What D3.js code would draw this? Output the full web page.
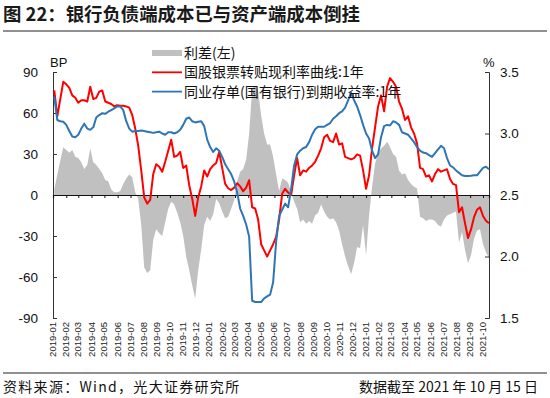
<!DOCTYPE html>
<html>
<head>
<meta charset="utf-8">
<script src="https://cdn.jsdelivr.net/npm/d3@7"></script>
<style>
  body { margin: 0; background: #fff; }
  svg { display: block; font-family: "Noto Sans CJK SC", "Noto Sans", sans-serif; }
</style>
</head>
<body>
<svg id="chart" width="550" height="398"></svg>
<script>
// weekly observations (Fridays), 2019-01-04 .. 2021-10-15
const weeks = d3.timeFriday.range(new Date(2019, 0, 4), new Date(2021, 9, 16));

// 国股银票转贴现利率曲线:1年 (%)
const billRate = [
  3.35, 3.14, 3.28, 3.42, 3.40, 3.37, 3.31, 3.29, 3.25, 3.27,
  3.27, 3.26, 3.38, 3.28, 3.29, 3.34, 3.35, 3.26, 3.25, 3.24,
  3.22, 3.23, 3.225, 3.225, 3.22, 3.21, 3.15, 3.04, 2.90, 2.70,
  2.48, 2.43, 2.46, 2.67, 2.75, 2.73, 2.69, 2.77, 2.86, 2.95,
  2.81, 2.82, 2.85, 2.72, 2.74, 2.58, 2.47, 2.33, 2.48, 2.57,
  2.70, 2.65, 2.71, 2.74, 2.76, 2.85, 2.72, 2.59, 2.555, 2.54,
  2.56, 2.595, 2.57, 2.53, 2.56, 2.62, 2.40, 2.39, 2.30, 2.10,
  2.05, 2.00, 2.05, 2.10, 2.16, 2.30, 2.51, 2.55, 2.52, 2.50,
  2.66, 2.80, 2.66, 2.70, 2.69, 2.72, 2.74, 2.77, 2.82, 2.88,
  2.97, 2.99, 2.94, 2.93, 3.00, 2.91, 2.92, 2.81, 2.80, 2.79,
  2.80, 2.83, 2.82, 2.70, 2.55, 2.66, 2.88, 3.05, 3.22, 3.31,
  3.18, 3.38, 3.45, 3.42, 3.38, 3.26, 3.20, 3.11, 3.14, 3.05,
  3.00, 2.92, 2.72, 2.71, 2.65, 2.66, 2.61, 2.67, 2.71, 2.69,
  2.70, 2.71, 2.63, 2.59, 2.58, 2.36, 2.40, 2.27, 2.15, 2.22,
  2.32, 2.38, 2.40, 2.33, 2.29, 2.27
];

// 同业存单(国有银行)到期收益率:1年 (%)
const cdYield = [
  3.30, 3.11, 3.10, 3.095, 3.07, 3.02, 2.975, 2.97, 2.99, 3.04,
  3.08, 3.04, 3.03, 3.05, 3.13, 3.15, 3.165, 3.16, 3.177, 3.19,
  3.205, 3.22, 3.22, 3.19, 3.10, 3.04, 3.015, 3.02, 3.02, 3.025,
  3.02, 3.015, 3.01, 3.005, 3.01, 3.015, 3.00, 2.99, 3.01, 3.01,
  3.00, 3.01, 3.03, 3.07, 3.12, 3.13, 3.10, 3.09, 3.095, 3.10,
  3.06, 2.95, 2.89, 2.85, 2.88, 2.86, 2.81, 2.75, 2.71, 2.67,
  2.61, 2.52, 2.39, 2.33, 2.26, 2.16, 1.64, 1.63, 1.63, 1.63,
  1.66, 1.675, 1.69, 1.79, 2.12, 2.33, 2.38, 2.43, 2.40, 2.55,
  2.74, 2.83, 2.86, 2.88, 2.89, 2.93, 2.99, 3.035, 3.055, 3.055,
  3.055, 3.07, 3.085, 3.12, 3.14, 3.165, 3.18, 3.21, 3.27, 3.33,
  3.27, 3.22, 3.15, 3.07, 3.00, 2.96, 2.86, 2.80, 2.83, 2.97,
  3.06, 3.07, 3.065, 3.10, 3.09, 3.07, 3.01, 3.00, 2.99, 2.96,
  2.93, 2.89, 2.86, 2.845, 2.84, 2.825, 2.81, 2.84, 2.87, 2.90,
  2.88, 2.80, 2.74, 2.725, 2.70, 2.68, 2.66, 2.654, 2.655, 2.656,
  2.66, 2.66, 2.69, 2.72, 2.73, 2.71
];

// 利差(左), BP
const spread = [
  4, 15, 25, 35, 33, 31, 33, 28, 27, 24,
  19, 22, 34, 24, 22, 19, 16, 11, 10, 4,
  2, 2, 3, 8, 12, 15, 13, 2, -3, -22,
  -53, -57, -55, -33, -25, -28, -30, -20, -10, -5,
  -7, -13, -20, -30, -45, -55, -66, -76, -55, -40,
  -22, -16, -19, -14, -3, -6, -12, -17, -16, -10,
  -4, 10, 17, 19, 26, 45, 78, 80, 76, 58,
  45, 37, 37, 28, 15, 3, 12, 11, 9, 2,
  -5, -10, -20, -18, -21, -19, -21, -15, -13, -7,
  -12, -16, -18, -17, -20, -26, -36, -45, -52, -58,
  -50, -38, -39, -22, -44, -15, 6, 23, 31, 34,
  36, 39, 35, 30, 28, 18, 15, 16, 11, 8,
  6, 5, -16, -17, -19, -18, -18, -19, -22, -23,
  -18, -15, -14, -13, -12, -35, -27, -40, -50, -44,
  -32, -26, -25, -36, -42, -46
];

const leftTicks = [90, 60, 30, 0, -30, -60, -90];
const rightTicks = [3.5, 3.0, 2.5, 2.0, 1.5];
const months = d3.timeMonth.range(new Date(2019, 0, 1), new Date(2021, 9, 2));
const legendItems = [
  { label: '利差(左)', type: 'area', color: '#c0c0c0' },
  { label: '国股银票转贴现利率曲线:1年', type: 'line', color: '#ff0000' },
  { label: '同业存单(国有银行)到期收益率:1年', type: 'line', color: '#2e75b6' }
];

const svg = d3.select('#chart');
const plot = { left: 53, right: 489, top: 72, bottom: 318 };

const x = d3.scaleTime()
  .domain([new Date(2019, 0, 1), new Date(2021, 9, 15)])
  .range([plot.left, plot.right]);
const yL = d3.scaleLinear().domain([-90, 90]).range([plot.bottom, plot.top]);
const yR = d3.scaleLinear().domain([1.5, 3.5]).range([plot.bottom, plot.top]);

// title
svg.append('text')
  .attr('x', 3).attr('y', 21)
  .attr('font-size', 18.4).attr('font-weight', 'bold').attr('fill', '#1a1a1a')
  .text('图 22：银行负债端成本已与资产端成本倒挂');
svg.append('line')
  .attr('x1', 3).attr('x2', 547).attr('y1', 31).attr('y2', 31)
  .attr('stroke', '#222').attr('stroke-width', 1);

// spread area
const area = d3.area()
  .x((d, i) => x(weeks[i]))
  .y0(yL(0))
  .y1(d => yL(d));
svg.append('path')
  .datum(spread)
  .attr('d', area)
  .attr('fill', '#c0c0c0');

// left axis
const axisL = svg.append('g')
  .attr('transform', `translate(${plot.left},0)`)
  .call(d3.axisRight(yL).tickValues(leftTicks).tickSize(4).tickFormat(''));
axisL.select('.domain').attr('stroke', '#333');
axisL.selectAll('.tick line').attr('stroke', '#333');
svg.append('g').selectAll('text')
  .data(leftTicks)
  .enter()
  .append('text')
  .attr('x', 38).attr('y', d => yL(d))
  .attr('dy', '0.35em').attr('text-anchor', 'end')
  .attr('font-size', 13.5).attr('fill', '#111')
  .attr('font-family', 'Liberation Sans, Arial, sans-serif')
  .text(d => d);

// right axis
const axisR = svg.append('g')
  .attr('transform', `translate(${plot.right},0)`)
  .call(d3.axisLeft(yR).tickValues(rightTicks).tickSize(4).tickFormat(''));
axisR.select('.domain').attr('stroke', '#333');
axisR.selectAll('.tick line').attr('stroke', '#333');
svg.append('g').selectAll('text')
  .data(rightTicks)
  .enter()
  .append('text')
  .attr('x', 500).attr('y', d => yR(d))
  .attr('dy', '0.35em')
  .attr('font-size', 13.5).attr('fill', '#111')
  .attr('font-family', 'Liberation Sans, Arial, sans-serif')
  .text(d => d3.format('.1f')(d));

svg.append('text').attr('x', 50).attr('y', 67)
  .attr('font-size', 13).attr('fill', '#111')
  .attr('font-family', 'Liberation Sans, Arial, sans-serif').text('BP');
svg.append('text').attr('x', 483).attr('y', 67)
  .attr('font-size', 13).attr('fill', '#111')
  .attr('font-family', 'Liberation Sans, Arial, sans-serif').text('%');

// zero line with month ticks
const axisX = svg.append('g')
  .attr('transform', `translate(0,${yL(0)})`)
  .call(d3.axisBottom(x).tickValues(months).tickSize(3).tickFormat(''));
axisX.select('.domain').attr('stroke', '#111').attr('stroke-width', 1.2);
axisX.selectAll('.tick line').attr('stroke', '#111');

// month labels below the plot
svg.append('g').selectAll('text')
  .data(months)
  .enter()
  .append('text')
  .attr('transform', d => `translate(${x(d) + 3},322) rotate(-90)`)
  .attr('text-anchor', 'end')
  .attr('font-size', 9.5).attr('fill', '#222')
  .attr('font-family', 'Liberation Sans, Arial, sans-serif')
  .text(d => d3.timeFormat('%Y-%m')(d));

// lines
const line = d3.line()
  .x((d, i) => x(weeks[i]))
  .y(d => yR(d));
svg.append('path').datum(billRate)
  .attr('d', line).attr('fill', 'none')
  .attr('stroke', '#ff0000').attr('stroke-width', 2).attr('stroke-linejoin', 'round');
svg.append('path').datum(cdYield)
  .attr('d', line).attr('fill', 'none')
  .attr('stroke', '#2e75b6').attr('stroke-width', 2).attr('stroke-linejoin', 'round');

// legend
const legend = svg.append('g').attr('transform', 'translate(152,53)');
legendItems.forEach((item, i) => {
  const row = legend.append('g').attr('transform', `translate(0,${i * 19.3})`);
  if (item.type === 'area') {
    row.append('rect').attr('x', 0).attr('y', -3).attr('width', 30).attr('height', 6)
      .attr('fill', item.color);
  } else {
    row.append('line').attr('x1', 0).attr('x2', 30).attr('y1', 0).attr('y2', 0)
      .attr('stroke', item.color).attr('stroke-width', 1.8);
  }
  row.append('text')
    .attr('x', 32).attr('y', 0).attr('dy', '0.36em')
    .attr('font-size', 14).attr('fill', '#111')
    .text(item.label);
});

// footer
svg.append('line')
  .attr('x1', 3).attr('x2', 547).attr('y1', 373).attr('y2', 373)
  .attr('stroke', '#222').attr('stroke-width', 1);
svg.append('text')
  .attr('x', 3).attr('y', 392)
  .attr('font-size', 14).attr('letter-spacing', 1.3).attr('fill', '#111')
  .text('资料来源：Wind，光大证券研究所');
svg.append('text')
  .attr('x', 538).attr('y', 392).attr('text-anchor', 'end')
  .attr('font-size', 14).attr('fill', '#111')
  .text('数据截至 2021 年 10 月 15 日');
</script>
</body>
</html>
